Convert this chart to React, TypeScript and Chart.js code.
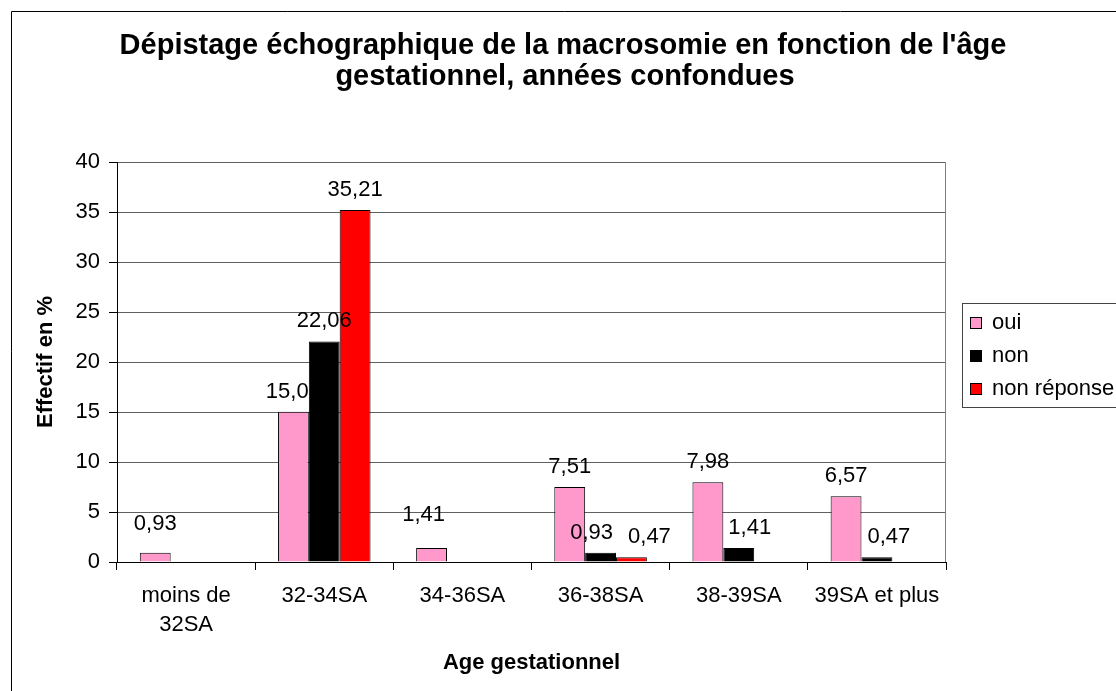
import React, { useEffect, useRef } from 'react';
import { Chart, registerables } from 'chart.js';

Chart.register(...registerables);

// ---------- data ----------
const titleLines = ["Dépistage échographique de la macrosomie en fonction de l'âge", 'gestationnel, années confondues'];
const xAxisTitle = 'Age gestationnel';
const yAxisTitle = 'Effectif en %';
const categories: (string | string[])[] = [['moins de', '32SA'], '32-34SA', '34-36SA', '36-38SA', '38-39SA', '39SA et plus'];
const seriesNames = ['oui', 'non', 'non réponse'];
const ouiValues = [0.93, 15.02, 1.41, 7.51, 7.98, 6.57];
const nonValues = [null, 22.06, null, 0.93, 1.41, 0.47];
const nonReponseValues = [null, 35.21, null, 0.47, null, null];
const yMin = 0;
const yMax = 40;
const yStep = 5;

// ---------- style ----------
const FONT = "'Liberation Sans', Arial, sans-serif";
const seriesColors = ['#FF99CC', '#000000', '#FF0000'];
// label layer: 'before' = drawn under the bars, 'after' = on top
const labelLayers = ['before', 'after', 'after'];
// manual label nudges [dx, dy] (as placed in the original)
const labelNudges: Record<string, [number, number]> = {
  '0-0': [0, -9],
  '0-2': [-8, -13],
  '1-3': [-9, 0],
  '1-4': [11, 0],
  '1-5': [12, 0],
  '2-3': [18, 0],
};

const fmt = (v: number) => v.toFixed(2).replace('.', ',');

function drawLabels(chart: any, layer: string) {
  const ctx = chart.ctx;
  chart.data.datasets.forEach((ds: any, di: number) => {
    if (labelLayers[di] !== layer) return;
    const meta = chart.getDatasetMeta(di);
    meta.data.forEach((bar: any, i: number) => {
      const v = ds.data[i];
      if (v == null) return;
      const { x, y } = bar.getProps(['x', 'y'], true);
      const n = labelNudges[`${di}-${i}`] || [0, 0];
      ctx.save();
      ctx.font = `22px ${FONT}`;
      ctx.fillStyle = '#000';
      ctx.textAlign = 'center';
      ctx.textBaseline = 'alphabetic';
      ctx.fillText(fmt(v), x + n[0], y - 14 + n[1]);
      ctx.restore();
    });
  });
}

const decorPlugin = {
  id: 'decor',
  beforeDatasetsDraw(chart: any) {
    drawLabels(chart, 'before');
  },
  afterDatasetsDraw(chart: any) {
    drawLabels(chart, 'after');
  },
  afterDraw(chart: any) {
    const ctx = chart.ctx;
    const area = chart.chartArea;
    ctx.save();
    // outer chart border
    ctx.strokeStyle = '#000';
    ctx.lineWidth = 1;
    ctx.beginPath();
    ctx.moveTo(11.5, 700);
    ctx.lineTo(11.5, 11.5);
    ctx.lineTo(1130, 11.5);
    ctx.stroke();
    // plot right border
    ctx.strokeStyle = '#808080';
    ctx.beginPath();
    ctx.moveTo(Math.round(area.right) - 0.5, area.top);
    ctx.lineTo(Math.round(area.right) - 0.5, area.bottom);
    ctx.stroke();
    // title
    ctx.fillStyle = '#000';
    ctx.font = `bold 29px ${FONT}`;
    ctx.textAlign = 'center';
    ctx.textBaseline = 'middle';
    ctx.fillText(titleLines[0], 563, 46);
    ctx.fillText(titleLines[1], 565, 77);
    // axis titles
    ctx.font = `bold 22px ${FONT}`;
    ctx.fillText(xAxisTitle, (area.left + area.right) / 2, 663);
    ctx.save();
    ctx.translate(46, (area.top + area.bottom) / 2);
    ctx.rotate(-Math.PI / 2);
    ctx.fillText(yAxisTitle, 0, 0);
    ctx.restore();
    // legend
    ctx.strokeStyle = '#444';
    ctx.strokeRect(962.5, 303.5, 200, 104);
    const rowY = [323, 356, 389];
    chart.data.datasets.forEach((ds: any, di: number) => {
      const cy = rowY[di];
      ctx.fillStyle = ds.backgroundColor;
      ctx.fillRect(970, cy - 6, 12, 12);
      ctx.strokeStyle = '#000';
      ctx.strokeRect(970.5, cy - 5.5, 11, 11);
      ctx.fillStyle = '#000';
      ctx.font = `22px ${FONT}`;
      ctx.textAlign = 'left';
      ctx.textBaseline = 'middle';
      ctx.fillText(ds.label, 992, cy);
    });
    ctx.restore();
  },
};

export default function App() {
  const ref = useRef<HTMLCanvasElement | null>(null);
  useEffect(() => {
    document.body.style.margin = '0';
    const canvas = ref.current!;
    const chart = new Chart(canvas, {
      type: 'bar',
      data: {
        labels: categories as any,
        datasets: [
          { label: seriesNames[0], data: ouiValues as any, backgroundColor: seriesColors[0], borderColor: '#000', borderWidth: 1 },
          { label: seriesNames[1], data: nonValues as any, backgroundColor: seriesColors[1], borderColor: '#000', borderWidth: 1 },
          { label: seriesNames[2], data: nonReponseValues as any, backgroundColor: seriesColors[2], borderColor: '#000', borderWidth: 1 },
        ],
      },
      options: {
        responsive: false,
        animation: false,
        devicePixelRatio: 1,
        layout: { padding: { top: 162, right: 170, left: 0, bottom: 0 } },
        datasets: { bar: { categoryPercentage: 0.67, barPercentage: 1 } },
        plugins: { legend: { display: false }, title: { display: false }, tooltip: { enabled: false } },
        scales: {
          x: {
            offset: true,
            grid: { display: true, drawOnChartArea: false, offset: true, tickLength: 8, color: '#000' },
            border: { color: '#000' },
            ticks: {
              font: { family: FONT, size: 22, lineHeight: 1.3 },
              color: '#000',
              padding: 12,
              maxRotation: 0,
              autoSkip: false,
            },
            afterFit: (s: any) => { s.height = 129; },
          },
          y: {
            min: yMin,
            max: yMax,
            ticks: { stepSize: yStep, font: { family: FONT, size: 22 }, color: '#000', padding: 9 },
            grid: { color: '#606060', tickLength: 8, tickColor: '#000' },
            border: { color: '#000' },
            afterFit: (s: any) => { s.width = 117; },
          },
        },
      },
      plugins: [decorPlugin],
    });
    return () => chart.destroy();
  }, []);
  return (
    <div style={{ position: 'fixed', left: 0, top: 0, width: 1116, height: 691, background: '#fff' }}>
      <canvas ref={ref} width={1116} height={691} style={{ display: 'block' }} />
    </div>
  );
}
